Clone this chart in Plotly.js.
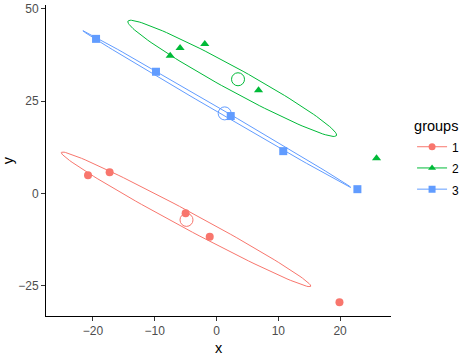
<!DOCTYPE html>
<html>
<head>
<meta charset="utf-8">
<script src="https://cdn.plot.ly/plotly-3.0.1.min.js"></script>
<style>html,body{margin:0;padding:0;background:#fff;}#chart{width:468px;height:356px;}</style>
</head>
<body>
<div id="chart"></div>
<script>
// Data points per group
var groupNames = ["1", "2", "3"];
var x1 = [-20.8, -17.3, -5.0, -1.1, 19.9];
var y1 = [5.0, 5.8, -5.3, -11.7, -29.4];
var x2 = [-7.5, -5.9, -1.9, 6.8, 25.9];
var y2 = [37.3, 39.4, 40.5, 28.0, 9.6];
var x3 = [-19.5, -9.8, 2.3, 10.8, 22.8];
var y3 = [41.9, 33.0, 21.0, 11.5, 1.2];

// Ellipse parameters (data units):
// centre, half-vector to rightmost point, vertical half-chord through centre
var ellCx = [-4.93, 2.54, 0.05];
var ellCy = [-6.97, 31.21, 22.9];
var ellAx = [20.19, 16.9, 21.68];
var ellAy = [-18.05, -15.34, -21.2];
var ellH  = [2.57, 3.52, 0.68];

var colors = ["#F8766D", "#00BA38", "#619CFF"];
var symbols = ["circle", "triangle-up", "square"];
var xs = [x1, x2, x3], ys = [y1, y2, y3];

function mean(a){var s=0;for(var i=0;i<a.length;i++)s+=a[i];return s/a.length;}

var traces = [];
for (var g = 0; g < 3; g++) {
  var ex = [], ey = [];
  var n = 120;
  for (var k = 0; k <= n; k++) {
    var t = 2 * Math.PI * k / n;
    ex.push(ellCx[g] + Math.cos(t) * ellAx[g]);
    ey.push(ellCy[g] + Math.cos(t) * ellAy[g] + Math.sin(t) * ellH[g]);
  }
  traces.push({x: ex, y: ey, mode: "lines", type: "scatter", showlegend: false,
    hoverinfo: "skip", line: {color: colors[g], width: 1}});
  traces.push({x: xs[g], y: ys[g], mode: "markers", type: "scatter", showlegend: false,
    marker: {color: colors[g], symbol: symbols[g], size: 8}});
  traces.push({x: [mean(xs[g])], y: [mean(ys[g])], mode: "markers", type: "scatter", showlegend: false,
    marker: {color: colors[g], symbol: "circle-open", size: 13, line: {width: 1, color: colors[g]}}});
}
for (var g2 = 0; g2 < 3; g2++) {
  traces.push({x: [null], y: [null], mode: "lines+markers", type: "scatter",
    name: '<span style="font-size:12px">' + groupNames[g2] + '</span>',
    line: {color: colors[g2], width: 1}, marker: {color: colors[g2], symbol: symbols[g2], size: 7}});
}

var axisCommon = {
  showgrid: false, zeroline: false, showline: true, linecolor: "#000", linewidth: 1,
  ticks: "outside", ticklen: 4, tickcolor: "#333", tickwidth: 1,
  tickfont: {family: "Liberation Sans, Arial, sans-serif", size: 12, color: "#4D4D4D"}
};

var layout = {
  width: 468, height: 356,
  margin: {l: 46, r: 76, t: 5, b: 40},
  paper_bgcolor: "#fff", plot_bgcolor: "#fff",
  font: {family: "Liberation Sans, Arial, sans-serif"},
  xaxis: Object.assign({}, axisCommon, {
    range: [-27.6, 28.24], tickvals: [-20, -10, 0, 10, 20],
    title: {text: "x", font: {size: 14.5, color: "#000"}, standoff: 5}
  }),
  yaxis: Object.assign({}, axisCommon, {
    range: [-33.14, 51.07], tickvals: [-25, 0, 25, 50],
    title: {text: "y", font: {size: 14.5, color: "#000"}, standoff: 7}
  }),
  showlegend: true,
  legend: {
    x: 1.058, xanchor: "left", y: 0.655, yanchor: "top",
    title: {text: "groups", font: {size: 14.5, color: "#000"}},
    font: {size: 14, color: "#000"}, bgcolor: "rgba(0,0,0,0)", tracegroupgap: 0
  }
};

Plotly.newPlot("chart", traces, layout, {displayModeBar: false, staticPlot: true});
</script>
</body>
</html>
